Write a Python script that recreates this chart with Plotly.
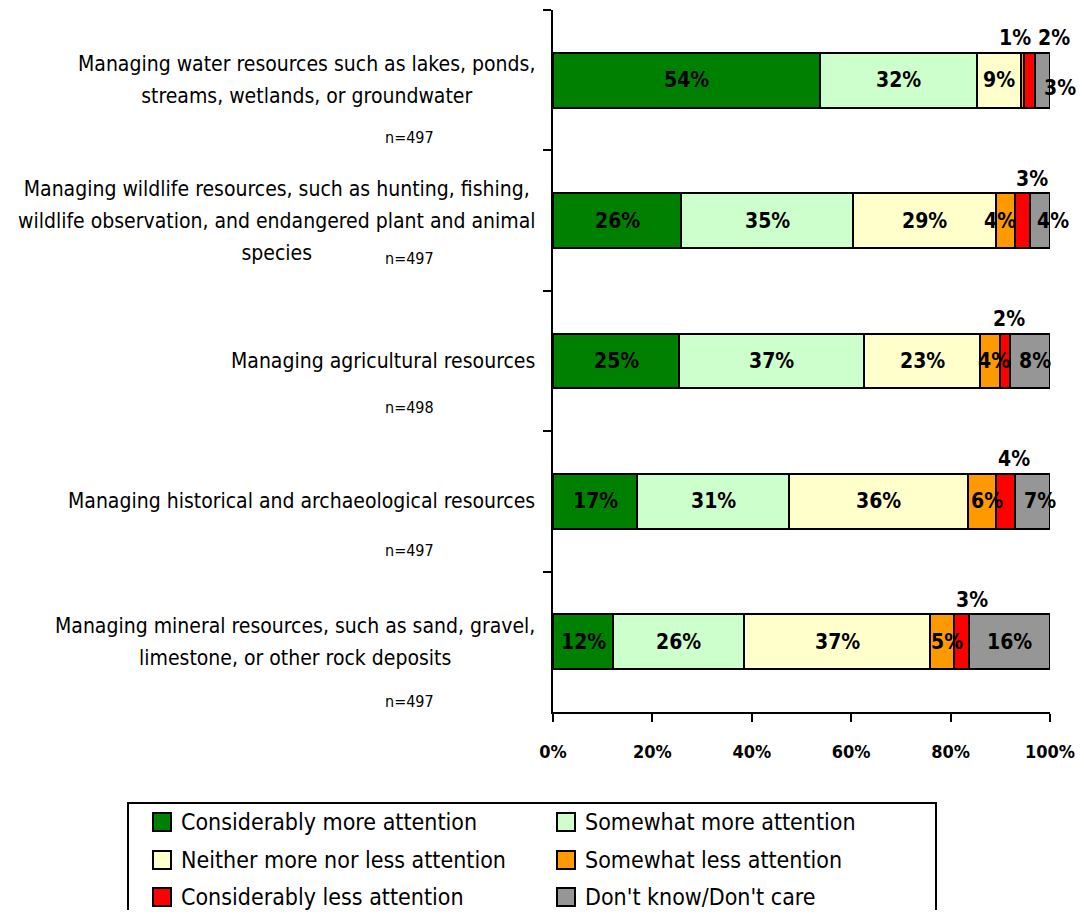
import plotly.graph_objects as go

# ---------------- data ----------------
categories = [
    "Managing water resources such as lakes, ponds,<br>streams, wetlands, or groundwater",
    "Managing wildlife resources, such as hunting, fishing,<br>wildlife observation, and endangered plant and animal<br>species",
    "Managing agricultural resources",
    "Managing historical and archaeological resources",
    "Managing mineral resources, such as sand, gravel,<br>limestone, or other rock deposits",
]
sample_sizes = ["n=497", "n=497", "n=498", "n=497", "n=497"]

series_names = [
    "Considerably more attention",
    "Somewhat more attention",
    "Neither more nor less attention",
    "Somewhat less attention",
    "Considerably less attention",
    "Don't know/Don't care",
]
considerably_more = [53.7, 25.8, 25.4, 16.9, 12.1]
somewhat_more = [31.6, 34.6, 37.2, 30.6, 26.4]
neither = [8.9, 28.8, 23.3, 35.9, 37.4]
somewhat_less = [0.6, 3.8, 4.0, 5.8, 4.8]
considerably_less = [2.2, 3.0, 2.0, 3.8, 3.0]
dont_know = [3.0, 4.0, 8.1, 7.0, 16.3]
series_values = [considerably_more, somewhat_more, neither,
                 somewhat_less, considerably_less, dont_know]

x_tick_values = [0, 20, 40, 60, 80, 100]
x_tick_labels = ["0%", "20%", "40%", "60%", "80%", "100%"]

# ---------------- styles ----------------
colors = ["#008000", "#CCFFCC", "#FFFFCC", "#FF9900", "#FF0000", "#969696"]
FONT = "Liberation Sans Narrow, Arial Narrow, DejaVu Sans Condensed, sans-serif"

# page has an 8px body margin; figure sized so the page is 1084x918
OFF = 8
W, H = 1068, 902
L, R, T, B = 545, 26, 2, 198
PW, PH = W - L - R, H - T - B


def px_x(px):
    # page pixel -> paper coordinate
    return (px - OFF - L) / PW


def px_y(py):
    return (H - B - (py - OFF)) / PH


# label offsets (xshift, yshift) in px for labels moved off their segment
label_offsets = {
    (3, 0): (-8, 42), (4, 0): (24, 42), (5, 0): (17, -8),
    (3, 1): (-6, 0), (4, 1): (9, 42), (5, 1): (13, 0),
    (3, 2): (4, 0), (4, 2): (4, 42), (5, 2): (5, 0),
    (3, 3): (5, 0), (4, 3): (8, 42), (5, 3): (7, 0),
    (3, 4): (5, 0), (4, 4): (10, 42),
}
n_shifts = [-57, -38, -46, -49, -60]


def spaced_label(text, size=21):
    # wrap each line so glyphs stay small while line spacing follows base font
    return "<br>".join(f"<span style='font-size:{size}px'>{ln}</span>"
                       for ln in text.split("<br>"))


fig = go.Figure()
for i, (name, vals) in enumerate(zip(series_names, series_values)):
    fig.add_trace(go.Bar(
        y=categories, x=vals, name=name, orientation="h",
        marker=dict(color=colors[i], line=dict(color="black", width=2)),
        showlegend=False, hoverinfo="x+name",
    ))

annotations = []
for r, cat in enumerate(categories):
    cum = 0.0
    for s, vals in enumerate(series_values):
        v = vals[r]
        xs, ys = label_offsets.get((s, r), (0, 0))
        annotations.append(dict(
            x=cum + v / 2, y=cat, xref="x", yref="y", text=f"{v:.0f}%",
            showarrow=False, xshift=xs, yshift=ys,
            font=dict(family=FONT, size=21, color="black", weight="bold"),
        ))
        cum += v
    annotations.append(dict(
        x=0, y=cat, xref="paper", yref="y", text=spaced_label(cat),
        showarrow=False, xanchor="right", align="center", xshift=-16,
        font=dict(family=FONT, size=24.5, color="black"),
    ))
    annotations.append(dict(
        x=0, y=cat, xref="paper", yref="y", text=sample_sizes[r],
        showarrow=False, xanchor="center", xshift=-144, yshift=n_shifts[r],
        font=dict(family=FONT, size=16, color="black"),
    ))

# manual legend
shapes = [dict(type="rect", xref="paper", yref="paper",
               x0=px_x(128), x1=px_x(936), y0=px_y(803), y1=px_y(935),
               line=dict(color="black", width=2), fillcolor="white")]
col_x = [153, 557]
row_y = [822, 860, 897]
for i, name in enumerate(series_names):
    cx = col_x[i % 2]
    cy = row_y[i // 2]
    shapes.append(dict(type="rect", xref="paper", yref="paper",
                       x0=px_x(cx), x1=px_x(cx + 18),
                       y0=px_y(cy - 9), y1=px_y(cy + 9),
                       line=dict(color="black", width=2), fillcolor=colors[i]))
    annotations.append(dict(
        x=px_x(cx + 26), y=px_y(cy), xref="paper", yref="paper", text=name,
        showarrow=False, xanchor="left", yanchor="middle",
        font=dict(family=FONT, size=23, color="black"),
    ))

fig.update_layout(
    width=W, height=H,
    margin=dict(l=L, r=R, t=T, b=B, pad=0),
    barmode="stack", bargap=0.61,
    plot_bgcolor="white", paper_bgcolor="white",
    annotations=annotations, shapes=shapes,
    xaxis=dict(
        range=[0, 100], tickmode="array", tickvals=x_tick_values,
        ticktext=x_tick_labels, ticklabeloverflow="allow",
        showgrid=False, zeroline=False, showline=True, linecolor="black",
        linewidth=2, ticks="outside", ticklen=8, tickwidth=2,
        tickcolor="black", ticklabelstandoff=14,
        tickfont=dict(family=FONT, size=18, color="black", weight="bold"),
    ),
    yaxis=dict(
        autorange="reversed", showticklabels=False, showgrid=False,
        zeroline=False, showline=True, linecolor="black", linewidth=2,
        ticks="outside", ticklen=8, tickwidth=2, tickcolor="black",
        tickson="boundaries",
    ),
)

fig.write_html("out.html")
